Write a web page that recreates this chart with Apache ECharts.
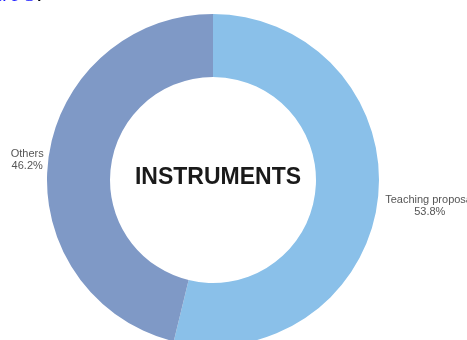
<!DOCTYPE html>
<html>
<head>
<meta charset="utf-8">
<script src="https://cdn.jsdelivr.net/npm/echarts@6/dist/echarts.min.js"></script>
<style>
  html, body { margin: 0; padding: 0; background: #fff; }
  #chart { width: 467px; height: 340px; }
</style>
</head>
<body>
<div id="chart"></div>
<script>
var categories = ['Teaching proposal', 'Others'];
var shares = [53.8, 46.2];
var sliceColors = ['#8ac0e9', '#7f99c6'];
var centerTitle = 'INSTRUMENTS';

var myChart = echarts.init(document.getElementById('chart'));

// label box widths so both lines are centred under each other
var labelWidths = { 'Teaching proposal': 86, 'Others': 32 };
var labelGaps = { 'Teaching proposal': 4, 'Others': 0 };

var pieData = categories.map(function (name, i) {
    return {
        name: name,
        value: shares[i],
        itemStyle: { color: sliceColors[i] },
        labelLine: { show: false, length: labelGaps[name], length2: 0 }
    };
});

var labelFont = { fontSize: 11, color: '#555', lineHeight: 12, fontFamily: 'Liberation Sans', align: 'center' };

var option = {
    animation: false,
    title: {
        text: centerTitle,
        left: 213,
        top: 173,
        textAlign: 'center',
        textVerticalAlign: 'middle',
        textStyle: {
            fontFamily: 'Liberation Sans',
            fontWeight: 'bold',
            fontSize: 23,
            color: '#1a1a1a'
        }
    },
    graphic: [{
        type: 'text',
        right: 425,
        top: -16,
        style: {
            text: '{b|Figure 5}{k|.}',
            rich: {
                b: { fontFamily: 'Liberation Serif', fontStyle: 'italic', fontSize: 22, fill: '#1a1aff', lineHeight: 22 },
                k: { fontFamily: 'Liberation Serif', fontSize: 22, fill: '#000', lineHeight: 22 }
            }
        }
    }],
    series: [{
        type: 'pie',
        center: [213, 180],
        radius: [103, 166],
        startAngle: 90,
        clockwise: true,
        avoidLabelOverlap: false,
        label: {
            show: true,
            position: 'outside',
            overflow: 'none',
            fontFamily: 'Liberation Sans',
            fontSize: 11,
            lineHeight: 12,
            color: '#555',
            formatter: function (p) {
                if (p.name === 'Others') {
                    return '{o|' + p.name + '}\n{o|' + p.value.toFixed(1) + '%}';
                }
                // blank first line drops this label a little, as in the source
                return '{t|\u00a0}\n{t|' + p.name + '}\n{t|' + p.value.toFixed(1) + '%}';
            },
            rich: {
                t: Object.assign({ width: labelWidths['Teaching proposal'] }, labelFont),
                o: Object.assign({ width: labelWidths['Others'] }, labelFont)
            }
        },
        emphasis: { disabled: true },
        data: pieData
    }]
};

myChart.setOption(option);
</script>
</body>
</html>
